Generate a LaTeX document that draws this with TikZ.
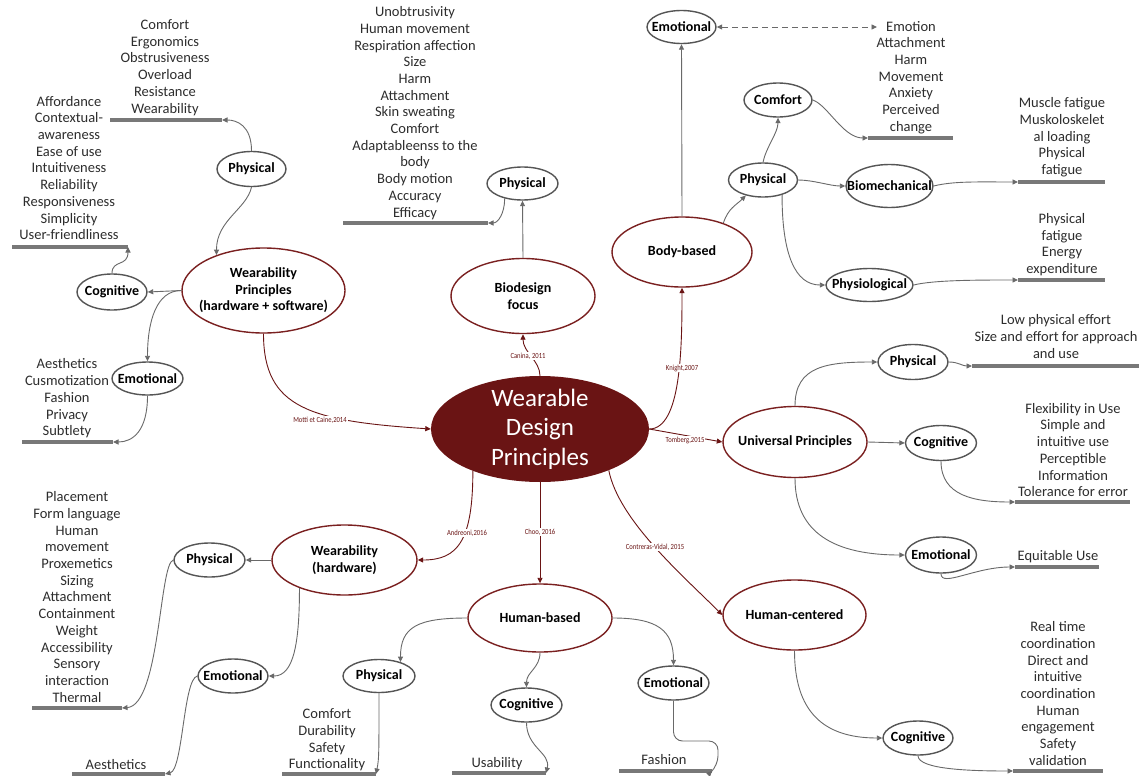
\documentclass[tikz,border=0pt]{standalone}
\usepackage{fontspec}
\setmainfont{Carlito}
\newfontfamily\citefont[FakeStretch=0.85]{Carlito}
\usetikzlibrary{shapes.geometric,arrows.meta,calc}
\definecolor{wred}{RGB}{106,20,20}
\definecolor{wborder}{RGB}{122,32,32}
\definecolor{gborder}{RGB}{85,85,85}
\definecolor{cgrey}{RGB}{105,105,105}
\definecolor{ugrey}{RGB}{120,120,120}
\definecolor{ltext}{RGB}{45,45,45}
\tikzset{
  tip/.style={-{Triangle[length=5.5pt,width=5pt]}},
  mainnode/.style={ellipse, fill=wred, inner sep=0pt},
  mainlbl/.style={text=white, align=center, font=\fontsize{25}{29.5}\selectfont, inner sep=0pt},
  catnode/.style={ellipse, draw=wborder, line width=1.4pt, inner sep=0pt},
  catlbl/.style={text=black, align=center, font=\bfseries\fontsize{14}{16.5}\selectfont, inner sep=0pt},
  subnode/.style={ellipse, draw=gborder, line width=1.4pt, inner sep=0pt},
  sublbl/.style={text=black, font=\bfseries\fontsize{14}{16}\selectfont, inner sep=0pt},
  lst/.style={align=center, font=\fontsize{14.5}{16.7}\selectfont, text=ltext, inner sep=0pt},
  uline/.style={line width=3.2pt, draw=ugrey},
  gconn/.style={draw=cgrey, line width=0.9pt, tip},
  rconn/.style={draw=wred, line width=0.9pt, tip},
  cite/.style={font=\citefont\fontsize{7.8}{9}\selectfont, text=wred, fill=white, inner sep=1pt},
}
\begin{document}
\begin{tikzpicture}[x=1pt,y=-1pt]
\useasboundingbox[fill=white] (0,0) rectangle (1140,776);

% ---------------- main and category nodes ----------------
\node[mainnode, minimum width=218pt, minimum height=106pt,
      label={[mainlbl]center:Wearable\\Design\\Principles}] (c) at (540,429) {};
\node[catnode, minimum width=163pt, minimum height=85pt,
      label={[catlbl]center:Wearability\\Principles\\(hardware + software)}] (wp) at (263.5,290.5) {};
\node[catnode, minimum width=144pt, minimum height=75pt,
      label={[catlbl]center:Biodesign\\focus}] (bd) at (523,296) {};
\node[catnode, minimum width=140pt, minimum height=70pt,
      label={[catlbl]center:Body-based}] (bb) at (682,252) {};
\node[catnode, minimum width=144pt, minimum height=71pt,
      label={[catlbl]center:Universal Principles}] (up) at (795,442) {};
\node[catnode, minimum width=143pt, minimum height=70pt,
      label={[catlbl]center:Human-centered}] (hc) at (794.5,615) {};
\node[catnode, minimum width=144pt, minimum height=68pt,
      label={[catlbl]center:Human-based}] (hb) at (540,618) {};
\node[catnode, minimum width=145pt, minimum height=70pt,
      label={[catlbl]center:Wearability\\(hardware)}] (whw) at (344.5,560) {};

% ---------------- sub nodes ----------------
\node[subnode, minimum width=69pt, minimum height=35pt, label={[sublbl]center:Physical}] (pw) at (251.5,169) {};
\node[subnode, minimum width=70pt, minimum height=36pt, label={[sublbl]center:Cognitive}] (cw) at (112,292) {};
\node[subnode, minimum width=71pt, minimum height=33pt, label={[sublbl]center:Emotional}] (ew) at (147.5,378.5) {};
\node[subnode, minimum width=71pt, minimum height=33pt, label={[sublbl]center:Physical}] (pb) at (522.5,183.5) {};
\node[subnode, minimum width=69pt, minimum height=33pt, label={[sublbl]center:Emotional}] (eb) at (681.5,27) {};
\node[subnode, minimum width=68pt, minimum height=34pt, label={[sublbl]center:Comfort}] (cmf) at (778,100) {};
\node[subnode, minimum width=69pt, minimum height=34pt, label={[sublbl]center:Physical}] (pbd) at (763,180) {};
\node[subnode, minimum width=87pt, minimum height=43pt, label={[sublbl]center:Biomechanical}] (bio) at (889.5,186) {};
\node[subnode, minimum width=87pt, minimum height=33pt, label={[sublbl]center:Physiological}] (phy) at (869.5,285) {};
\node[subnode, minimum width=70pt, minimum height=35pt, label={[sublbl]center:Physical}] (pu) at (913,362) {};
\node[subnode, minimum width=71pt, minimum height=35pt, label={[sublbl]center:Cognitive}] (cu) at (941,443) {};
\node[subnode, minimum width=71pt, minimum height=36pt, label={[sublbl]center:Emotional}] (eu) at (941,555) {};
\node[subnode, minimum width=70pt, minimum height=34pt, label={[sublbl]center:Cognitive}] (chc) at (918,738) {};
\node[subnode, minimum width=72pt, minimum height=33pt, label={[sublbl]center:Physical}] (phb) at (379,676) {};
\node[subnode, minimum width=71pt, minimum height=34pt, label={[sublbl]center:Cognitive}] (chb) at (526.5,705) {};
\node[subnode, minimum width=71pt, minimum height=34pt, label={[sublbl]center:Emotional}] (ehb) at (673.5,683) {};
\node[subnode, minimum width=71pt, minimum height=34pt, label={[sublbl]center:Physical}] (phw) at (209.5,560) {};
\node[subnode, minimum width=70pt, minimum height=34pt, label={[sublbl]center:Emotional}] (ehw) at (233,676) {};

% ---------------- lists ----------------
\node[lst] (l1) at (165,67.5) {Comfort\\Ergonomics\\Obstrusiveness\\Overload\\Resistance\\Wearability};
\node[lst] (l2) at (69,168) {Affordance\\Contextual-\\awareness\\Ease of use\\Intuitiveness\\Reliability\\Responsiveness\\Simplicity\\User-friendliness};
\node[lst] (l3) at (67,398.5) {Aesthetics\\Cusmotization\\Fashion\\Privacy\\Subtlety};
\node[lst] (l4) at (415,113) {Unobtrusivity\\Human movement\\Respiration affection\\Size\\Harm\\Attachment\\Skin sweating\\Comfort\\Adaptableenss to the\\body\\Body motion\\Accuracy\\Efficacy};
\node[lst] (l5) at (911,77.5) {Emotion\\Attachment\\Harm\\Movement\\Anxiety\\Perceived\\change};
\node[lst] (l6) at (1062,137.5) {Muscle fatigue\\Muskoloskelet\\al loading\\Physical\\fatigue};
\node[lst] (l7) at (1062,244.5) {Physical\\fatigue\\Energy\\expenditure};
\node[lst] (l8) at (1056,336.5) {Low physical effort\\Size and effort for approach\\and use};
\node[lst] (l9) at (1073,450) {Flexibility in Use\\Simple and\\intuitive use\\Perceptible\\Information\\Tolerance for error};
\node[lst] (l10) at (1058,557) {Equitable Use};
\node[lst] (l11) at (1058,693.5) {Real time\\coordination\\Direct and\\intuitive\\coordination\\Human\\engagement\\Safety\\validation};
\node[lst] (l12) at (327,740) {Comfort\\Durability\\Safety\\Functionality};
\node[lst] (l13) at (497,764) {Usability};
\node[lst] (l14) at (664,760) {Fashion};
\node[lst] (l15) at (77,597) {Placement\\Form language\\Human\\movement\\Proxemetics\\Sizing\\Attachment\\Containment\\Weight\\Accessibility\\Sensory\\interaction\\Thermal};
\node[lst] (l16) at (116,765) {Aesthetics};

% ---------------- underline coordinates ----------------
\coordinate (uA1) at (110,120);  \coordinate (uA2) at (222,120);
\coordinate (uB1) at (12,247);   \coordinate (uB2) at (128,247);
\coordinate (uC1) at (22,442);   \coordinate (uC2) at (113,442);
\coordinate (uD1) at (343,223);  \coordinate (uD2) at (488,223);
\coordinate (uE1) at (868,138);  \coordinate (uE2) at (953,138);
\coordinate (uF1) at (1018,182); \coordinate (uF2) at (1105,182);
\coordinate (uG1) at (1018,280); \coordinate (uG2) at (1105,280);
\coordinate (uH1) at (972,366);  \coordinate (uH2) at (1139,366);
\coordinate (uI1) at (1015,502); \coordinate (uI2) at (1130,502);
\coordinate (uJ1) at (1015,567); \coordinate (uJ2) at (1099,567);
\coordinate (uK1) at (1013,771); \coordinate (uK2) at (1103,771);
\coordinate (uL1) at (282,774);  \coordinate (uL2) at (376,774);
\coordinate (uM1) at (452,773);  \coordinate (uM2) at (546,773);
\coordinate (uN1) at (619,771);  \coordinate (uN2) at (712,771);
\coordinate (uO1) at (32,708);   \coordinate (uO2) at (122,708);
\coordinate (uP1) at (72,774);   \coordinate (uP2) at (165,774);
\coordinate (dE) at (877,27);

\foreach \u in {A,B,C,D,E,F,G,H,I,J,K,L,M,N,O,P}
  \draw[uline] (u\u1) -- (u\u2);

% ---------------- red connectors from centre ----------------
\draw[rconn] (wp.south) .. controls +(0,75) and +(-120,-8) .. (c.west);
\node[cite] (t1) at (320,420) {Motti et Caine,2014};
\draw[rconn] (c.north) .. controls +(0,-15) and +(0,18) .. (bd.south);
\node[cite] (t2) at (528,356) {Canina, 2011};
\draw[rconn] (c.east) .. controls +(32,0) and +(0,60) .. (bb.south);
\node[cite] (t3) at (682,368) {Knight,2007};
\draw[rconn] (c.east) -- (up.west);
\node[cite] (t4) at (685,440) {Tomberg,2015};
\draw[rconn] (c.212) .. controls +(0,70) and +(40,0) .. (whw.east);
\node[cite] (t5) at (467,533) {Andreoni,2016};
\draw[rconn] (c.south) -- (hb.north);
\node[cite] (t6) at (540,532) {Choo, 2016};
\draw[rconn] (c.329) .. controls +(10,50) and +(-40,-40) .. (hc.west);
\node[cite] (t7) at (655,547) {Contreras-Vidal, 2015};

% ---------------- Wearability principles branch ----------------
\draw[gconn] (pw.south) .. controls +(-5,22) and +(0,-35) .. (wp.143);
\draw[gconn] (pw.north) .. controls +(0,-25) and +(15,0) .. (uA2);
\draw[gconn] (wp.west) -- (cw.east);
\draw[gconn] (cw.north) .. controls +(0,-14) and +(0,20) .. (uB2);
\draw[gconn] (wp.west) .. controls +(-25,0) and +(0,-40) .. (ew.north);
\draw[gconn] (ew.south) .. controls +(0,35) and +(20,0) .. (uC2);

% ---------------- Biodesign branch ----------------
\draw[gconn] (bd.north) -- (pb.south);
\draw[gconn] (pb.220) .. controls +(0,15) and +(10,0) .. (uD2);

% ---------------- Body-based branch ----------------
\draw[gconn] (bb.north) -- (eb.south);
\draw[draw=cgrey, line width=0.9pt, dash pattern=on 6pt off 4pt, {Triangle[length=5.5pt,width=5pt]}-{Triangle[length=5.5pt,width=5pt]}] (eb.east) -- (dE);
\draw[gconn] (bb.35) .. controls +(5,-15) and +(-10,10) .. (pbd.222);
\draw[gconn] (pbd.north) .. controls +(3,-15) and +(0,15) .. (cmf.south);
\draw[gconn] (cmf.east) .. controls +(15,5) and +(-25,0) .. (uE1);
\draw[gconn] (pbd.east) .. controls +(15,0) and +(-15,0) .. (bio.west);
\draw[gconn] (pbd.322) .. controls +(0,60) and +(-30,0) .. (phy.west);
\draw[gconn] (bio.east) .. controls +(20,-5) and +(-40,0) .. (uF1);
\draw[gconn] (phy.east) .. controls +(20,-5) and +(-40,0) .. (uG1);

% ---------------- Universal principles branch ----------------
\draw[gconn] (up.north) .. controls +(0,-40) and +(-50,0) .. (pu.west);
\draw[gconn] (up.east) -- (cu.west);
\draw[gconn] (up.south) .. controls +(0,55) and +(-70,0) .. (eu.west);
\draw[gconn] (pu.east) .. controls +(10,0) and +(-10,0) .. (uH1);
\draw[gconn] (cu.south) .. controls +(0,35) and +(-40,0) .. (uI1);
\draw[gconn] (eu.south) .. controls +(0,14) and +(-40,0) .. (uJ1);

% ---------------- Human-centered branch ----------------
\draw[gconn] (hc.south) .. controls +(0,60) and +(-60,0) .. (chc.west);
\draw[gconn] (chc.south) .. controls +(0,14) and +(-40,0) .. (uK1);

% ---------------- Human-based branch ----------------
\draw[gconn] (hb.west) .. controls +(-50,0) and +(0,-35) .. (phb.33);
\draw[gconn] (hb.south) .. controls +(0,15) and +(0,-15) .. (chb.north);
\draw[gconn] (hb.east) .. controls +(45,0) and +(0,-35) .. (ehb.north);
\draw[gconn] (phb.south) .. controls +(0,60) and +(3,-15) .. (uL2);
\draw[gconn] (chb.south) .. controls +(0,25) and +(5,-20) .. (uM2);
\draw[gconn, rounded corners=9pt] (ehb.south) |- ($(uN2)+(6,-30)$) -- ($(uN2)+(6,-6)$) -- (uN2);

% ---------------- Wearability hardware branch ----------------
\draw[gconn] (whw.west) -- (phw.east);
\draw[gconn] (whw.212) .. controls +(0,55) and +(25,0) .. (ehw.east);
\draw[gconn] (phw.west) .. controls +(-14,3) and +(38,-3) .. (uO2);
\draw[gconn] (ehw.west) .. controls +(-14,3) and +(18,-4) .. (uP2);
\end{tikzpicture}
\end{document}
